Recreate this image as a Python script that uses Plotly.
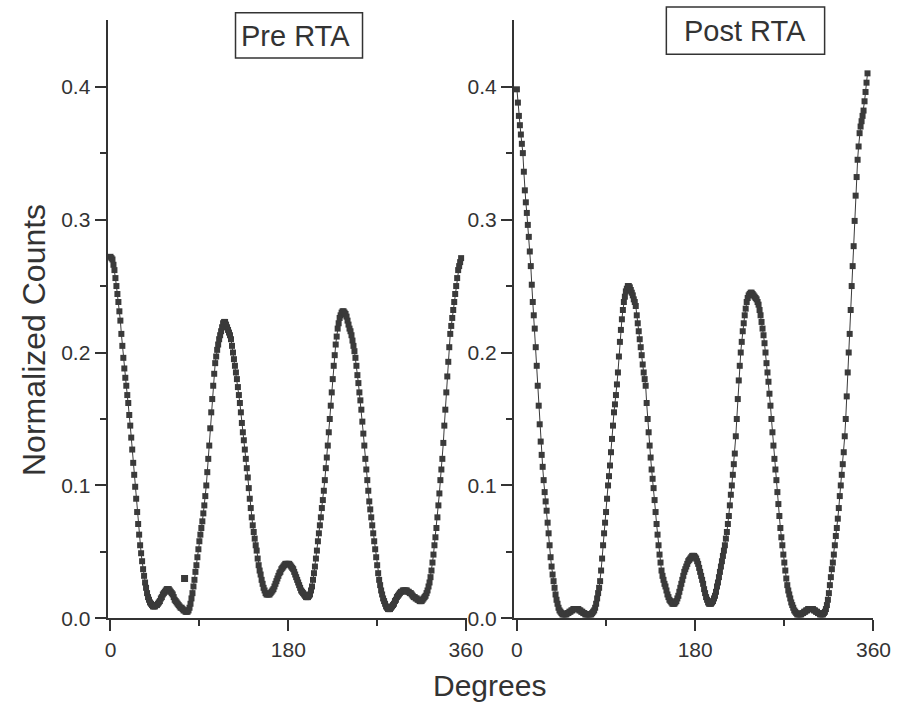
import plotly.graph_objects as go

# ---------------- data (1 degree steps) ----------------
pre_counts = [
    0.272, 0.271, 0.270, 0.266, 0.262, 0.256, 0.250, 0.244, 0.238, 0.231,   # 0-9
    0.224, 0.214, 0.205, 0.196, 0.188, 0.181, 0.175, 0.168, 0.162, 0.153,   # 10-19
    0.145, 0.136, 0.127, 0.117, 0.108, 0.099, 0.090, 0.080, 0.071, 0.063,   # 20-29
    0.055, 0.049, 0.043, 0.037, 0.032, 0.027, 0.023, 0.019, 0.016, 0.014,   # 30-39
    0.012, 0.011, 0.010, 0.009, 0.009, 0.009, 0.010, 0.010, 0.011, 0.012,   # 40-49
    0.013, 0.015, 0.016, 0.018, 0.019, 0.020, 0.021, 0.022, 0.022, 0.022,   # 50-59
    0.021, 0.020, 0.019, 0.018, 0.016, 0.014, 0.013, 0.012, 0.011, 0.010,   # 60-69
    0.009, 0.008, 0.008, 0.007, 0.006, 0.006, 0.005, 0.005, 0.005, 0.006,   # 70-79
    0.008, 0.011, 0.015, 0.019, 0.024, 0.029, 0.035, 0.040, 0.046, 0.052,   # 80-89
    0.058, 0.063, 0.068, 0.073, 0.079, 0.085, 0.092, 0.100, 0.110, 0.120,   # 90-99
    0.130, 0.143, 0.155, 0.165, 0.175, 0.184, 0.192, 0.197, 0.202, 0.206,   # 100-109
    0.210, 0.213, 0.216, 0.219, 0.222, 0.223, 0.223, 0.221, 0.219, 0.217,   # 110-119
    0.215, 0.213, 0.210, 0.205, 0.200, 0.195, 0.190, 0.185, 0.180, 0.174,   # 120-129
    0.168, 0.162, 0.155, 0.147, 0.140, 0.134, 0.127, 0.120, 0.113, 0.106,   # 130-139
    0.098, 0.090, 0.083, 0.076, 0.070, 0.065, 0.060, 0.055, 0.051, 0.045,   # 140-149
    0.040, 0.036, 0.033, 0.029, 0.026, 0.023, 0.021, 0.019, 0.018, 0.018,   # 150-159
    0.018, 0.018, 0.019, 0.020, 0.021, 0.022, 0.024, 0.026, 0.028, 0.030,   # 160-169
    0.032, 0.034, 0.035, 0.037, 0.038, 0.039, 0.040, 0.041, 0.041, 0.041,   # 170-179
    0.041, 0.041, 0.040, 0.039, 0.038, 0.037, 0.035, 0.033, 0.031, 0.029,   # 180-189
    0.027, 0.025, 0.023, 0.021, 0.020, 0.019, 0.018, 0.017, 0.016, 0.016,   # 190-199
    0.016, 0.017, 0.018, 0.021, 0.024, 0.029, 0.034, 0.039, 0.045, 0.051,   # 200-209
    0.058, 0.064, 0.070, 0.076, 0.083, 0.089, 0.096, 0.104, 0.113, 0.121,   # 210-219
    0.130, 0.140, 0.150, 0.160, 0.170, 0.180, 0.190, 0.198, 0.206, 0.212,   # 220-229
    0.218, 0.222, 0.226, 0.228, 0.230, 0.231, 0.231, 0.230, 0.229, 0.227,   # 230-239
    0.224, 0.221, 0.218, 0.216, 0.213, 0.209, 0.205, 0.201, 0.196, 0.190,   # 240-249
    0.183, 0.177, 0.170, 0.164, 0.157, 0.148, 0.139, 0.130, 0.120, 0.112,   # 250-259
    0.104, 0.096, 0.088, 0.082, 0.076, 0.070, 0.064, 0.058, 0.052, 0.046,   # 260-269
    0.040, 0.034, 0.029, 0.025, 0.021, 0.018, 0.015, 0.013, 0.011, 0.009,   # 270-279
    0.008, 0.007, 0.007, 0.007, 0.008, 0.009, 0.010, 0.011, 0.013, 0.014,   # 280-289
    0.016, 0.017, 0.018, 0.019, 0.020, 0.020, 0.021, 0.021, 0.021, 0.021,   # 290-299
    0.021, 0.020, 0.020, 0.019, 0.019, 0.018, 0.017, 0.016, 0.016, 0.015,   # 300-309
    0.015, 0.014, 0.014, 0.013, 0.013, 0.013, 0.014, 0.015, 0.016, 0.017,   # 310-319
    0.019, 0.021, 0.024, 0.027, 0.031, 0.036, 0.042, 0.048, 0.055, 0.061,   # 320-329
    0.068, 0.076, 0.085, 0.094, 0.104, 0.112, 0.120, 0.132, 0.145, 0.157,   # 330-339
    0.170, 0.182, 0.193, 0.204, 0.214, 0.220, 0.226, 0.232, 0.238, 0.244,   # 340-349
    0.250, 0.256, 0.262, 0.265, 0.268, 0.271,                               # 350-355
]
pre_deg = list(range(0, 356))
pre_outlier_deg = [75]
pre_outlier_counts = [0.030]

post_counts = [
    0.398, 0.388, 0.378, 0.371, 0.364, 0.357, 0.350, 0.336, 0.322, 0.313,   # 0-9
    0.305, 0.296, 0.287, 0.276, 0.265, 0.251, 0.238, 0.228, 0.218, 0.204,   # 10-19
    0.190, 0.175, 0.160, 0.146, 0.133, 0.123, 0.114, 0.104, 0.095, 0.088,   # 20-29
    0.081, 0.072, 0.064, 0.055, 0.046, 0.039, 0.033, 0.028, 0.023, 0.018,   # 30-39
    0.014, 0.011, 0.008, 0.006, 0.005, 0.004, 0.003, 0.003, 0.003, 0.003,   # 40-49
    0.003, 0.004, 0.004, 0.005, 0.005, 0.006, 0.006, 0.007, 0.007, 0.007,   # 50-59
    0.007, 0.007, 0.007, 0.006, 0.006, 0.005, 0.005, 0.004, 0.004, 0.003,   # 60-69
    0.003, 0.003, 0.003, 0.003, 0.003, 0.003, 0.004, 0.005, 0.006, 0.008,   # 70-79
    0.011, 0.015, 0.019, 0.023, 0.028, 0.036, 0.045, 0.055, 0.064, 0.072,   # 80-89
    0.080, 0.090, 0.100, 0.107, 0.115, 0.125, 0.135, 0.145, 0.155, 0.161,   # 90-99
    0.168, 0.176, 0.185, 0.197, 0.208, 0.217, 0.225, 0.232, 0.238, 0.242,   # 100-109
    0.246, 0.248, 0.250, 0.250, 0.249, 0.247, 0.245, 0.243, 0.240, 0.238,   # 110-119
    0.235, 0.228, 0.222, 0.216, 0.210, 0.204, 0.198, 0.191, 0.185, 0.180,   # 120-129
    0.175, 0.162, 0.150, 0.140, 0.130, 0.121, 0.112, 0.105, 0.098, 0.089,   # 130-139
    0.080, 0.071, 0.063, 0.055, 0.048, 0.042, 0.036, 0.032, 0.029, 0.026,   # 140-149
    0.024, 0.021, 0.018, 0.016, 0.014, 0.013, 0.012, 0.011, 0.011, 0.011,   # 150-159
    0.012, 0.013, 0.015, 0.017, 0.020, 0.023, 0.026, 0.029, 0.032, 0.035,   # 160-169
    0.037, 0.039, 0.041, 0.043, 0.044, 0.045, 0.046, 0.047, 0.047, 0.047,   # 170-179
    0.046, 0.045, 0.043, 0.041, 0.038, 0.035, 0.032, 0.029, 0.026, 0.022,   # 180-189
    0.019, 0.016, 0.014, 0.012, 0.011, 0.011, 0.011, 0.012, 0.013, 0.015,   # 190-199
    0.017, 0.020, 0.024, 0.027, 0.031, 0.035, 0.039, 0.043, 0.047, 0.051,   # 200-209
    0.055, 0.060, 0.065, 0.071, 0.077, 0.085, 0.093, 0.100, 0.108, 0.116,   # 210-219
    0.124, 0.137, 0.150, 0.165, 0.179, 0.190, 0.200, 0.208, 0.216, 0.222,   # 220-229
    0.228, 0.233, 0.238, 0.241, 0.243, 0.244, 0.245, 0.245, 0.244, 0.243,   # 230-239
    0.242, 0.241, 0.240, 0.238, 0.236, 0.232, 0.228, 0.223, 0.218, 0.213,   # 240-249
    0.207, 0.200, 0.192, 0.185, 0.178, 0.169, 0.160, 0.150, 0.140, 0.130,   # 250-259
    0.120, 0.112, 0.104, 0.095, 0.086, 0.077, 0.068, 0.061, 0.055, 0.048,   # 260-269
    0.042, 0.036, 0.030, 0.025, 0.021, 0.018, 0.015, 0.012, 0.010, 0.008,   # 270-279
    0.006, 0.005, 0.004, 0.003, 0.003, 0.003, 0.003, 0.003, 0.004, 0.004,   # 280-289
    0.005, 0.005, 0.006, 0.006, 0.007, 0.007, 0.007, 0.007, 0.007, 0.007,   # 290-299
    0.006, 0.006, 0.005, 0.005, 0.004, 0.004, 0.003, 0.003, 0.003, 0.003,   # 300-309
    0.004, 0.005, 0.007, 0.010, 0.014, 0.019, 0.025, 0.031, 0.037, 0.042,   # 310-319
    0.048, 0.055, 0.062, 0.068, 0.075, 0.083, 0.092, 0.100, 0.108, 0.116,   # 320-329
    0.125, 0.137, 0.150, 0.167, 0.185, 0.200, 0.214, 0.232, 0.250, 0.265,   # 330-339
    0.280, 0.299, 0.318, 0.332, 0.345, 0.355, 0.365, 0.370, 0.374, 0.378,   # 340-349
    0.382, 0.389, 0.396, 0.403, 0.410,                                      # 350-354
]
post_deg = list(range(0, 355))

x_ticks = [0, 180, 360]
x_minor = [90, 270]
y_ticks = [0.0, 0.1, 0.2, 0.3, 0.4]
y_ticklabels = ["0.0", "0.1", "0.2", "0.3", "0.4"]
y_minor = [0.05, 0.15, 0.25, 0.35]

# ---------------- styling ----------------
INK = "#333333"
MARK = "#3a3a3a"
FONT = "Liberation Sans, Arial, Helvetica, sans-serif"
W, H = 911, 718  # reference frame used to place things (paper fractions)

fig = go.Figure()

def add_series(x, y, xa, ya):
    fig.add_trace(go.Scatter(
        x=x, y=y, mode="lines+markers", xaxis=xa, yaxis=ya,
        line=dict(color=MARK, width=1),
        marker=dict(symbol="square", size=6, color=MARK),
        showlegend=False, cliponaxis=False))

add_series(pre_deg, pre_counts, "x", "y")
fig.add_trace(go.Scatter(
    x=pre_outlier_deg, y=pre_outlier_counts, mode="markers", xaxis="x", yaxis="y",
    marker=dict(symbol="square", size=7, color=MARK), showlegend=False))
add_series(post_deg, post_counts, "x2", "y2")

ydom = [(H - 628) / H, (H - 20.5) / H]

def xaxis(dom, rng, anchor):
    return dict(domain=dom, range=rng, anchor=anchor, showline=True,
                linecolor=INK, linewidth=2, ticks="outside", ticklen=11,
                tickwidth=2, tickcolor=INK, tickvals=x_ticks, showgrid=False,
                zeroline=False, tickfont=dict(family=FONT, size=21, color=INK),
                minor=dict(tickvals=x_minor, ticks="outside", ticklen=6,
                           tickwidth=2, tickcolor=INK))

def yaxis(anchor):
    return dict(domain=ydom, range=[0, 0.45], anchor=anchor, showline=True,
                linecolor=INK, linewidth=2, ticks="outside", ticklen=11,
                tickwidth=2, tickcolor=INK, tickvals=y_ticks,
                ticktext=y_ticklabels, showgrid=False, zeroline=False,
                tickfont=dict(family=FONT, size=21, color=INK),
                minor=dict(tickvals=y_minor, ticks="outside",
                           ticklen=6, tickwidth=2, tickcolor=INK))

def px_x(p):
    return p / W

def px_y(p):
    return (H - p) / H

fig.update_layout(
    autosize=True, margin=dict(l=0, r=0, t=0, b=0),
    paper_bgcolor="white", plot_bgcolor="white",
    xaxis=xaxis([px_x(107), px_x(475)], [-3, 361], "y"),
    yaxis=yaxis("x"),
    xaxis2=xaxis([px_x(523), px_x(891)], [-3, 360], "y2"),
    yaxis2=yaxis("x2"),
    shapes=[
        dict(type="rect", xref="paper", yref="paper",
             x0=px_x(238), x1=px_x(368), y0=px_y(59), y1=px_y(13),
             line=dict(color=INK, width=1.5), fillcolor="white", layer="below"),
        dict(type="rect", xref="paper", yref="paper",
             x0=px_x(679), x1=px_x(841), y0=px_y(55), y1=px_y(7),
             line=dict(color=INK, width=1.5), fillcolor="white", layer="below"),
    ],
    annotations=[
        dict(text="Pre RTA", xref="paper", yref="paper",
             x=px_x(299), y=px_y(37), xanchor="center", yanchor="middle",
             showarrow=False, font=dict(family=FONT, size=29, color=INK)),
        dict(text="Post RTA", xref="paper", yref="paper",
             x=px_x(760), y=px_y(31), xanchor="center", yanchor="middle",
             showarrow=False, font=dict(family=FONT, size=29, color=INK)),
        dict(text="Normalized Counts", xref="paper", yref="paper",
             x=px_x(31), y=px_y(345), xanchor="center", yanchor="middle",
             showarrow=False, textangle=-90,
             font=dict(family=FONT, size=32, color=INK)),
        dict(text="Degrees", xref="paper", yref="paper",
             x=px_x(498), y=px_y(696), xanchor="center", yanchor="middle",
             showarrow=False, font=dict(family=FONT, size=30, color=INK)),
    ],
)

fig.write_html(
    "out.html",
    default_width="100vw",
    default_height="100vh",
    post_script="document.documentElement.style.margin='0';"
                "document.body.style.margin='0';"
                "document.documentElement.style.overflow='hidden';"
                "document.body.style.overflow='hidden';"
                "Plotly.Plots.resize(document.getElementById('{plot_id}'));",
)
